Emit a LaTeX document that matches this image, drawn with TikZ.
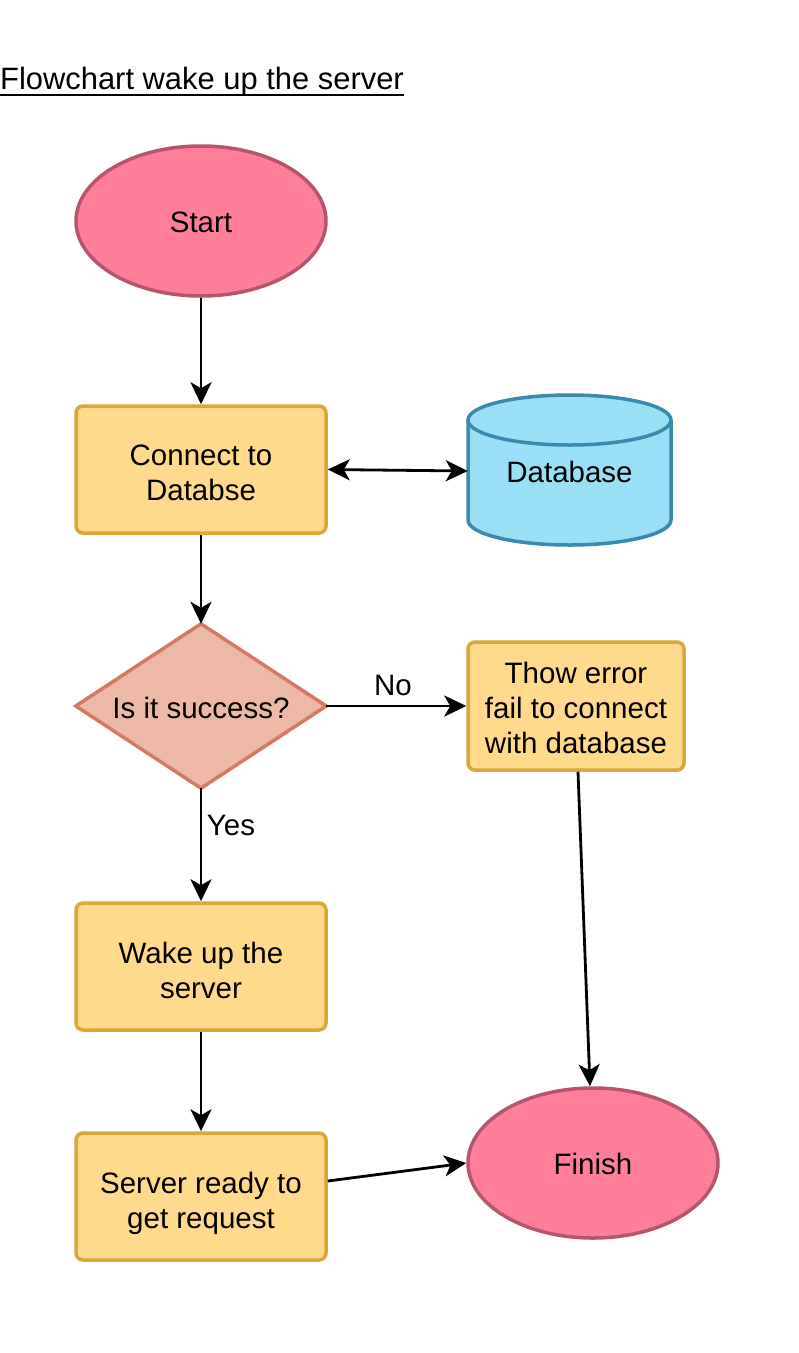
\documentclass[tikz,border=0pt]{standalone}
\usepackage{fontspec}
\setmainfont{Liberation Sans}
\usetikzlibrary{shapes.geometric,arrows.meta}
\definecolor{pinkfill}{HTML}{FF7F9A}
\definecolor{pinkline}{HTML}{B5566E}
\definecolor{boxfill}{HTML}{FFD98C}
\definecolor{boxline}{HTML}{D9A83A}
\definecolor{dbfill}{HTML}{99E0F7}
\definecolor{dbline}{HTML}{3A8AAB}
\definecolor{diafill}{HTML}{EEB8A7}
\definecolor{dialine}{HTML}{D57A62}
\tikzset{
  txt/.style={font=\fontsize{29.5}{35}\selectfont, align=center, text=black, inner sep=0pt},
  terminal/.style={txt, ellipse, draw=pinkline, fill=pinkfill, line width=3.5pt, minimum width=250pt, minimum height=150pt, inner sep=0pt},
  procbox/.style={rectangle, rounded corners=7pt, draw=boxline, fill=boxfill, line width=3.5pt, inner sep=0pt},
  tip/.tip={Stealth[length=22pt,width=21pt,inset=6pt]},
  conn/.style={line width=2.8pt, -tip},
  lbl/.style={font=\fontsize{29.5}{35}\selectfont, text=black, inner sep=0pt}
}
\begin{document}
\begin{tikzpicture}[x=1pt,y=-1pt]
\useasboundingbox (0,0) rectangle (799,1353);
\fill[white] (0,0) rectangle (799,1353);
% title
\node[anchor=base west, inner sep=0pt, font=\fontsize{30.9}{36}\selectfont] (title) at (0,89) {Flowchart wake up the server};
\draw[line width=2.2pt] ([yshift=-6pt]title.base west) -- ([yshift=-6pt]title.base east);
% start
\node[terminal] (start) at (201,221) {};
\node[txt] (starttxt) at ([yshift=-1pt]start.center) {Start};
% connect box
\node[procbox, minimum width=250pt, minimum height=127pt] (connect) at (201,469.5) {};
\node[txt] (connecttxt) at ([yshift=-3pt]connect.center) {Connect to\\Databse};
% database cylinder
\node[minimum width=203pt, minimum height=150pt, inner sep=0pt] (db) at (569.5,471) {};
\fill[dbfill] (468,420) -- (468,520) arc[start angle=180, end angle=360, x radius=101.5, y radius=-25] -- (671,420) arc[start angle=0, end angle=180, x radius=101.5, y radius=-25] -- cycle;
\draw[dbline, line width=3.5pt] (468,420) -- (468,520) arc[start angle=180, end angle=360, x radius=101.5, y radius=-25] -- (671,420);
\draw[dbline, line width=3.5pt] (569.5,420) ellipse[x radius=101.5, y radius=25];
\node[txt] (dbtxt) at ([yshift=-1pt]db.center) {Database};
% decision
\node[minimum width=250pt, minimum height=164pt, inner sep=0pt] (dia) at (201,706) {};
\draw[dialine, fill=diafill, line width=3.5pt, line join=miter] (dia.north) -- (dia.east) -- (dia.south) -- (dia.west) -- cycle;
\node[txt] (diatxt) at ([yshift=-1.5pt]dia.center) {Is it success?};
% error box
\node[procbox, minimum width=216pt, minimum height=128pt] (err) at (576,706) {};
\node[txt] (errtxt) at ([yshift=-2pt]err.center) {Thow error\\fail to connect\\with database};
% wake box
\node[procbox, minimum width=250pt, minimum height=127pt] (wake) at (201,966.5) {};
\node[txt] (waketxt) at ([yshift=-4pt]wake.center) {Wake up the\\server};
% ready box
\node[procbox, minimum width=250pt, minimum height=127pt] (ready) at (201,1196.5) {};
\node[txt] (readytxt) at ([yshift=-7pt]ready.center) {Server ready to\\get request};
% finish
\node[terminal] (finish) at (593,1163) {};
\node[txt] (finishtxt) at ([yshift=-1pt]finish.center) {Finish};
% connectors
\draw[conn] (start.south) -- (connect.north);
\draw[line width=2.8pt, tip-tip] (connect.east) -- (db.west);
\draw[conn] (connect.south) -- (dia.north);
\draw[conn] (dia.east) -- (err.west);
\node[lbl] (no) at (393,685) {No};
\draw[conn] (dia.south) -- (wake.north);
\node[lbl] (yes) at (231,825) {Yes};
\draw[conn] (wake.south) -- (ready.north);
\draw[conn] ([yshift=15.5pt]ready.east) -- (finish.west);
\draw[conn] ([xshift=2pt]err.south) -- ([xshift=-3pt]finish.north);
\end{tikzpicture}
\end{document}
